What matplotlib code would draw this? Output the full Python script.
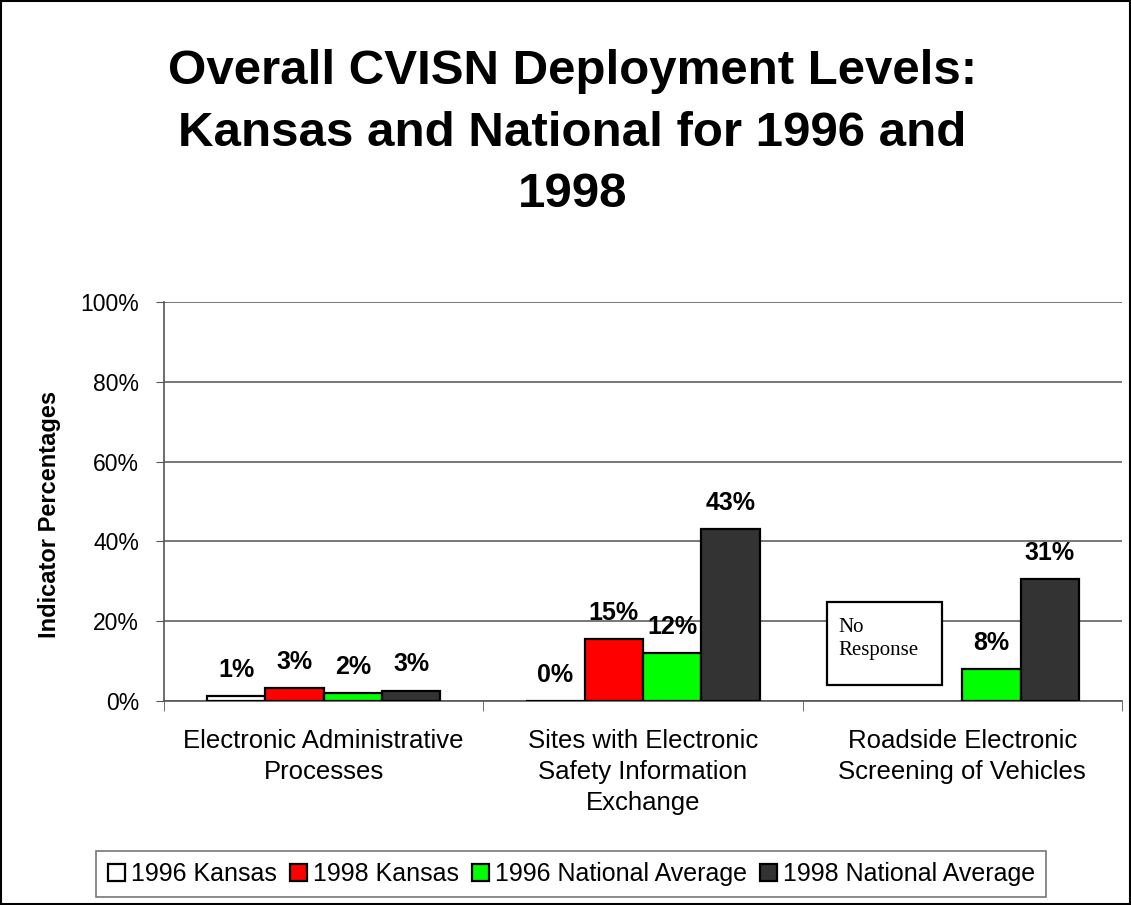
import matplotlib.pyplot as plt
import numpy as np

plt.rcParams['font.family'] = ['Liberation Sans', 'DejaVu Sans']

categories = ['Electronic Administrative\nProcesses',
              'Sites with Electronic\nSafety Information\nExchange',
              'Roadside Electronic\nScreening of Vehicles']
series = ['1996 Kansas', '1998 Kansas', '1996 National Average', '1998 National Average']
colors = ['white', '#ff0000', '#00ff00', '#333333']
# None = no response
kansas_1996 = [1.25, 0.0, None]
kansas_1998 = [3.25, 15.5, None]
national_1996 = [2.0, 12.1, 8.0]
national_1998 = [2.6, 43.1, 30.5]
labels = [['1%', '0%', None], ['3%', '15%', None], ['2%', '12%', '8%'], ['3%', '43%', '31%']]

values = [kansas_1996, kansas_1998, national_1996, national_1998]

fig = plt.figure(figsize=(11.31, 9.05), dpi=100)
fig.patches.append(plt.Rectangle((0.001, 0.001), 0.998, 0.998, transform=fig.transFigure,
                                 fill=False, edgecolor='black', lw=1.5))
# axes box: x 164-1122 px, y 302-701 px
ax = fig.add_axes([164 / 1131, 1 - 701 / 905, 958 / 1131, 399 / 905])

x = np.arange(len(categories))
w = 0.1826
for i, (vals, col) in enumerate(zip(values, colors)):
    pos = x + (i - 1.5) * w
    for j, v in enumerate(vals):
        if v is None:
            continue
        ax.bar(pos[j], v, w, color=col, edgecolor='black', lw=1.6, zorder=3,
               label=series[i] if j == 0 else None)
        if labels[i][j] is not None:
            ax.text(pos[j], v + 4.8, labels[i][j], ha='center', va='baseline',
                    fontsize=18, fontweight='bold', zorder=4)

ax.set_ylim(0, 100)
ax.set_xlim(-0.5, 2.5)
ax.set_yticks(range(0, 101, 20))
ax.set_yticklabels([f'{t}%' for t in range(0, 101, 20)], fontsize=16.5)
ax.yaxis.grid(True, color='#606060', lw=1.2, zorder=0)
ax.set_axisbelow(True)
ax.set_xticks(x)
ax.set_xticklabels(categories, fontsize=18.5, linespacing=1.37)
ax.tick_params(axis='x', length=0, pad=20)
ax.set_xticks([-0.5, 0.5, 1.5, 2.5], minor=True)
ax.tick_params(axis='x', which='minor', length=7, color='#555555')
ax.tick_params(axis='y', length=6, color='#555555', pad=12)
for s in ['top', 'right']:
    ax.spines[s].set_visible(False)
for s in ['left', 'bottom']:
    ax.spines[s].set_color('#555555')
    ax.spines[s].set_linewidth(1.2)
fig.text(50 / 1131, 1 - 514 / 905, 'Indicator Percentages', rotation=90, ha='center', va='center',
         fontsize=17, fontweight='bold')

# no response box for Kansas in third group
ax.add_patch(plt.Rectangle((1.576, 4.0), 0.361, 20.75, facecolor='white', edgecolor='black',
                           lw=1.6, zorder=5))
ax.text(1.611, 15.6, 'No\nResponse', fontsize=15, family='Liberation Serif', va='center',
        ha='left', linespacing=1.25, zorder=6)

fig.text(0.506, 0.853, 'Overall CVISN Deployment Levels:\nKansas and National for 1996 and\n1998',
         ha='center', va='center', fontsize=35.5, fontweight='bold', linespacing=1.48)

handles, labs = ax.get_legend_handles_labels()
leg = fig.legend(handles, labs, loc='center', bbox_to_anchor=(0.505, 0.034), ncol=4, fontsize=18,
                 frameon=True, fancybox=False, edgecolor='#555555', handlelength=0.68,
                 handleheight=0.64, handletextpad=0.24, columnspacing=0.52, borderpad=0.45)
leg.get_frame().set_linewidth(1.2)

fig.savefig('out.png', dpi=100)
